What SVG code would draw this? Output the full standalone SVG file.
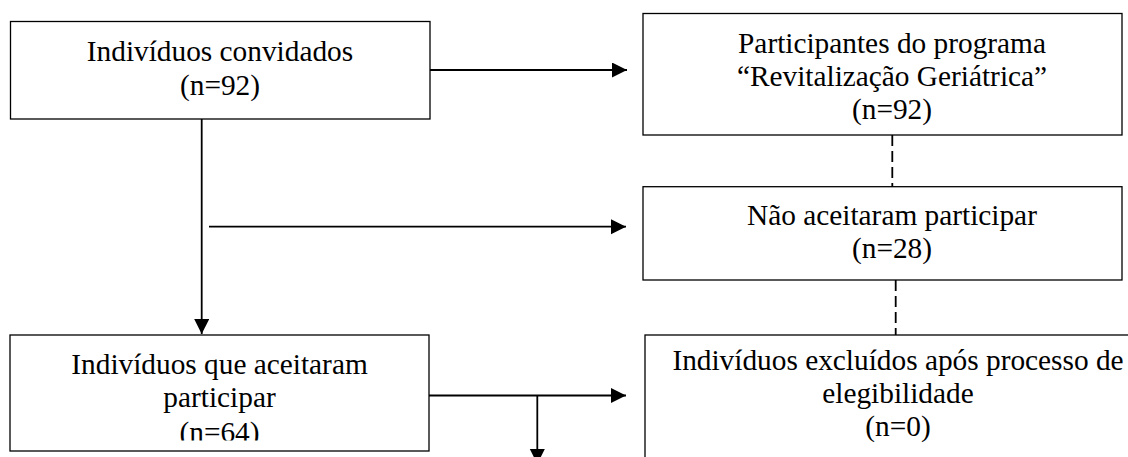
<svg xmlns="http://www.w3.org/2000/svg" width="1128" height="457" viewBox="0 0 1128 457">
<style>
.box{fill:#fff;stroke:#000;stroke-width:1.3}
.t{font-family:"Liberation Serif","Times New Roman",serif;font-size:29.33px;fill:#000;text-anchor:middle}
.c{fill:none;stroke:#000;stroke-width:1.8}
.d{fill:none;stroke:#000;stroke-width:1.8;stroke-dasharray:11 5}
</style>
<defs>
<marker id="ah" markerUnits="userSpaceOnUse" markerWidth="16" markerHeight="16" refX="15" refY="7.5" orient="auto">
<path d="M0,0 L15,7.5 L0,15 z" fill="#000"/>
</marker>
<clipPath id="clip5"><rect x="10" y="335" width="420" height="105.5"/></clipPath>
</defs>
<rect width="1128" height="457" fill="#fff"/>
<g id="connectors">
<line class="c" x1="430" y1="70" x2="627" y2="70" marker-end="url(#ah)"/>
<line class="c" x1="201.7" y1="119" x2="201.7" y2="334" marker-end="url(#ah)"/>
<line class="c" x1="209" y1="226.7" x2="626" y2="226.7" marker-end="url(#ah)"/>
<line class="c" x1="429" y1="395.5" x2="626" y2="395.5" marker-end="url(#ah)"/>
<line class="c" x1="537.3" y1="395.5" x2="537.3" y2="464" marker-end="url(#ah)"/>
<line class="d" x1="892.3" y1="135" x2="892.3" y2="187"/>
<line class="d" x1="895.7" y1="280" x2="895.7" y2="335"/>
</g>
<g id="n1">
<rect class="box" x="10.5" y="21.5" width="419.5" height="97.5"/>
<text class="t" x="220" y="61">Indivíduos convidados</text>
<text class="t" x="220" y="95">(n=92)</text>
</g>
<g id="n2">
<rect class="box" x="643" y="13.5" width="479" height="121.5"/>
<text class="t" x="892" y="53">Participantes do programa</text>
<text class="t" x="892" y="86">“Revitalização Geriátrica”</text>
<text class="t" x="892" y="119">(n=92)</text>
</g>
<g id="n3">
<rect class="box" x="643" y="186.7" width="479" height="93.3"/>
<text class="t" x="892" y="225">Não aceitaram participar</text>
<text class="t" x="892" y="258">(n=28)</text>
</g>
<g id="n4">
<rect class="box" x="645" y="335" width="510" height="150"/>
<text class="t" x="898" y="370">Indivíduos excluídos após processo de</text>
<text class="t" x="898" y="403">elegibilidade</text>
<text class="t" x="898" y="436">(n=0)</text>
</g>
<g id="n5">
<rect class="box" x="10" y="335" width="419" height="116"/>
<g clip-path="url(#clip5)">
<text class="t" x="219.5" y="374">Indivíduos que aceitaram</text>
<text class="t" x="219.5" y="407">participar</text>
<text class="t" x="219.5" y="442">(n=64)</text>
</g>
</g>
</svg>
